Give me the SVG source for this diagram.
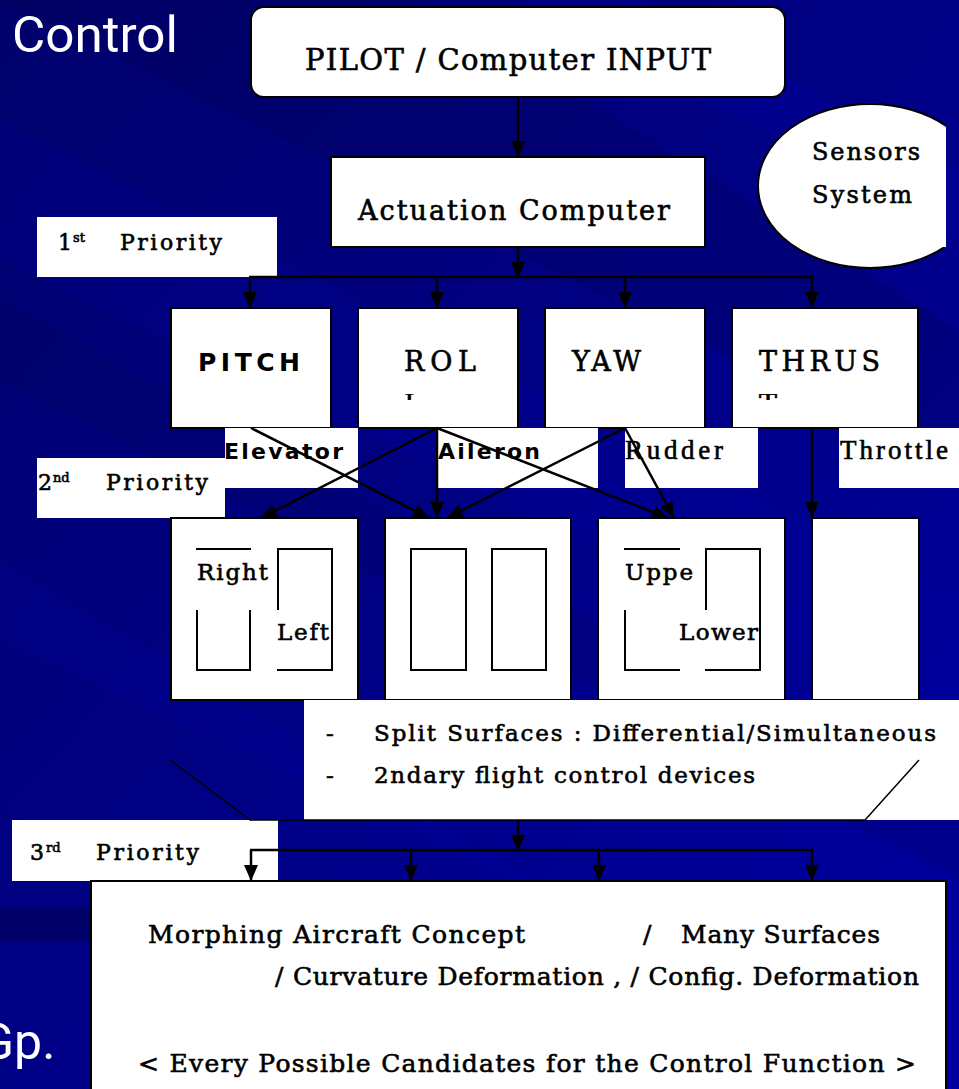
<svg xmlns="http://www.w3.org/2000/svg" width="959" height="1089" viewBox="0 0 959 1089">
<defs>
<linearGradient id="bg" x1="0" y1="0" x2="1" y2="1">
<stop offset="0" stop-color="#00006c"/>
<stop offset="0.5" stop-color="#000086"/>
<stop offset="1" stop-color="#0000a2"/>
</linearGradient>
<marker id="ah" markerUnits="userSpaceOnUse" markerWidth="16" markerHeight="14" refX="16" refY="7" orient="auto">
<path d="M0,0 L16,7 L0,14 z" fill="#000"/>
</marker>
<clipPath id="ellClip"><rect x="700" y="90" width="246" height="190"/></clipPath>
<clipPath id="l2clip"><rect x="380" y="394" width="520" height="6"/></clipPath>
<style>
.serif{font-family:"DejaVu Serif","Liberation Serif",serif;fill:#000;stroke:#000;stroke-width:0.6}
.sans{font-family:"DejaVu Sans","Liberation Sans",sans-serif;font-weight:bold;fill:#000}
.tserif{font-family:"Liberation Serif","DejaVu Serif",serif;fill:#000;stroke:#000;stroke-width:0.6}
.box{fill:#fff;stroke:#000;stroke-width:2}
.wbg{fill:#fff;stroke:none}
.inner{fill:none;stroke:#000;stroke-width:2}
.con{stroke:#000;stroke-width:2.5;fill:none}
.arr{stroke:#000;stroke-width:2.5;fill:none;marker-end:url(#ah)}
.thin{stroke:#000;stroke-width:1.5;fill:none}
.title{font-family:Roboto,"Liberation Sans",sans-serif;fill:#fff}
</style>
</defs>

<!-- background -->
<rect x="0" y="0" width="959" height="1089" fill="url(#bg)"/>
<g>
<polygon points="0,0 420,0 959,330 959,470" fill="#000050" opacity="0.25"/>
<polygon points="0,120 0,260 959,720 959,600" fill="#0000c0" opacity="0.12"/>
<polygon points="0,300 0,380 959,880 959,820" fill="#000050" opacity="0.18"/>
<polygon points="520,0 640,0 959,170 959,240" fill="#0000d0" opacity="0.12"/>
<polygon points="0,560 0,640 959,1089 880,1089" fill="#0000c0" opacity="0.1"/>
</g>
<rect x="0" y="908" width="91" height="34" fill="#000068"/>

<text class="title" x="12" y="52" font-size="50" textLength="166" lengthAdjust="spacingAndGlyphs">Control</text>
<text class="title" x="-20" y="1059" font-size="50">Gp.</text>

<g id="label-1st">
<rect class="wbg" x="37" y="217" width="240" height="60"/>
<text class="serif" x="58" y="250" font-size="22">1</text>
<text class="serif" x="73" y="242" font-size="13">st</text>
<text class="serif" x="120" y="250" font-size="22" textLength="102" lengthAdjust="spacing">Priority</text>
</g>

<g id="label-2nd">
<rect class="wbg" x="37" y="458" width="188" height="60"/>
<text class="serif" x="38" y="490" font-size="22">2</text>
<text class="serif" x="53" y="482" font-size="13">nd</text>
<text class="serif" x="106" y="490" font-size="22" textLength="102" lengthAdjust="spacing">Priority</text>
</g>

<g id="label-3rd">
<rect class="wbg" x="12" y="820" width="266" height="61"/>
<text class="serif" x="30" y="860" font-size="22">3</text>
<text class="serif" x="46" y="852" font-size="13">rd</text>
<text class="serif" x="96" y="860" font-size="22" textLength="103" lengthAdjust="spacing">Priority</text>
</g>

<g id="pilot">
<rect class="box" x="251" y="7" width="534" height="90" rx="13" ry="13"/>
<text class="serif" x="305" y="70" font-size="29" textLength="406" lengthAdjust="spacing">PILOT / Computer INPUT</text>
</g>

<g id="actuation">
<rect class="box" x="331" y="157" width="374" height="90"/>
<text class="serif" x="358" y="220" font-size="27" textLength="312" lengthAdjust="spacing">Actuation Computer</text>
</g>

<g id="sensors">
<ellipse cx="870" cy="186" rx="112" ry="82" fill="#fff" stroke="#000" stroke-width="2" clip-path="url(#ellClip)"/>
<rect class="wbg" x="900" y="127" width="46" height="120"/>
<text class="serif" x="812" y="160" font-size="24" textLength="108" lengthAdjust="spacing">Sensors</text>
<text class="serif" x="812" y="203" font-size="24" textLength="100" lengthAdjust="spacing">System</text>
</g>

<g id="pitch">
<rect class="box" x="171" y="308" width="160" height="120"/>
<text class="sans" x="198" y="371" font-size="25" textLength="102" lengthAdjust="spacing">PITCH</text>
</g>
<g id="roll">
<rect class="box" x="358" y="308" width="160" height="120"/>
<text class="serif" x="404" y="371" font-size="27" textLength="72" lengthAdjust="spacing">ROL</text>
<text class="serif" x="404" y="414" font-size="27" clip-path="url(#l2clip)">L</text>
</g>
<g id="yaw">
<rect class="box" x="545" y="308" width="160" height="120"/>
<text class="serif" x="572" y="371" font-size="27" textLength="69" lengthAdjust="spacing">YAW</text>
</g>
<g id="thrust">
<rect class="box" x="732" y="308" width="186" height="120"/>
<text class="serif" x="759" y="371" font-size="27" textLength="121" lengthAdjust="spacing">THRUS</text>
<text class="serif" x="759" y="414" font-size="27" clip-path="url(#l2clip)">T</text>
</g>

<g id="elevator">
<rect class="wbg" x="225" y="428" width="133" height="60"/>
<text class="sans" x="224" y="459" font-size="22" textLength="119" lengthAdjust="spacing">Elevator</text>
</g>
<g id="aileron">
<rect class="wbg" x="438" y="428" width="160" height="60"/>
<text class="sans" x="438" y="459" font-size="22" textLength="102" lengthAdjust="spacing">Aileron</text>
</g>
<g id="rudder">
<rect class="wbg" x="625" y="428" width="133" height="60"/>
<text class="tserif" x="625" y="459" font-size="27" textLength="98" lengthAdjust="spacing">Rudder</text>
</g>
<g id="throttle">
<rect class="wbg" x="839" y="428" width="120" height="60"/>
<text class="tserif" x="840" y="459" font-size="27" textLength="108" lengthAdjust="spacing">Throttle</text>
</g>

<g id="surf-a">
<rect class="box" x="171" y="518" width="187" height="182"/>
<rect class="inner" x="197" y="549" width="53" height="121"/>
<rect class="inner" x="278" y="549" width="54" height="121"/>
<rect class="wbg" x="196" y="550" width="80" height="60"/>
<rect class="wbg" x="276" y="610" width="55" height="59"/>
<text class="serif" x="197" y="580" font-size="23" textLength="71" lengthAdjust="spacing">Right</text>
<text class="serif" x="277" y="640" font-size="23" textLength="52" lengthAdjust="spacing">Left</text>
</g>
<g id="surf-b">
<rect class="box" x="385" y="518" width="186" height="182"/>
<rect class="inner" x="411" y="549" width="55" height="121"/>
<rect class="inner" x="492" y="549" width="54" height="121"/>
</g>
<g id="surf-c">
<rect class="box" x="598" y="518" width="187" height="182"/>
<rect class="inner" x="625" y="549" width="54" height="121"/>
<rect class="inner" x="706" y="549" width="54" height="121"/>
<rect class="wbg" x="624" y="550" width="80" height="60"/>
<rect class="wbg" x="678" y="610" width="81" height="59"/>
<text class="serif" x="625" y="580" font-size="23" textLength="68" lengthAdjust="spacing">Uppe</text>
<text class="serif" x="679" y="640" font-size="23" textLength="79" lengthAdjust="spacing">Lower</text>
</g>
<g id="surf-d">
<rect class="box" x="812" y="518" width="107" height="182"/>
</g>

<g id="notes">
<rect class="wbg" x="304" y="700" width="655" height="120"/>
<text class="serif" x="326" y="741" font-size="23">-</text>
<text class="serif" x="374" y="741" font-size="23" textLength="562" lengthAdjust="spacing">Split Surfaces : Differential/Simultaneous</text>
<text class="serif" x="326" y="783" font-size="23">-</text>
<text class="serif" x="374" y="783" font-size="23" textLength="381" lengthAdjust="spacing">2ndary flight control devices</text>
</g>

<g id="morphing">
<rect class="box" x="91" y="881" width="855" height="220"/>
<text class="serif" x="148" y="943" font-size="25" textLength="377" lengthAdjust="spacing">Morphing Aircraft Concept</text>
<text class="serif" x="643" y="943" font-size="25">/</text>
<text class="serif" x="681" y="943" font-size="25" textLength="199" lengthAdjust="spacing">Many Surfaces</text>
<text class="serif" x="275" y="985" font-size="25" textLength="644" lengthAdjust="spacing">/ Curvature Deformation , / Config. Deformation</text>
<text class="serif" x="138" y="1072" font-size="25" textLength="778" lengthAdjust="spacing">&lt; Every Possible Candidates for the Control Function &gt;</text>
</g>

<g id="connectors">
<line class="arr" x1="518" y1="97" x2="518" y2="157"/>
<line class="arr" x1="518" y1="247" x2="518" y2="278"/>
<line class="con" x1="249" y1="277" x2="813" y2="277"/>
<line class="arr" x1="250" y1="277" x2="250" y2="308"/>
<line class="arr" x1="437" y1="277" x2="437" y2="308"/>
<line class="arr" x1="625" y1="277" x2="625" y2="308"/>
<line class="arr" x1="812" y1="277" x2="812" y2="308"/>

<line class="arr" x1="251" y1="428" x2="429" y2="518"/>
<line class="arr" x1="437" y1="428" x2="261" y2="518"/>
<line class="arr" x1="437" y1="428" x2="437" y2="518"/>
<line class="arr" x1="437" y1="428" x2="668" y2="518"/>
<line class="arr" x1="625" y1="428" x2="447" y2="518"/>
<line class="arr" x1="625" y1="428" x2="674" y2="518"/>
<line class="arr" x1="812" y1="428" x2="812" y2="518"/>

<polyline class="thin" points="170,760 250,820 865,820 919,760"/>
<line class="arr" x1="518" y1="820" x2="518" y2="851"/>
<line class="con" x1="250" y1="850" x2="813" y2="850"/>
<line class="arr" x1="251" y1="850" x2="251" y2="881"/>
<line class="arr" x1="411" y1="850" x2="411" y2="881"/>
<line class="arr" x1="599" y1="850" x2="599" y2="881"/>
<line class="arr" x1="812" y1="850" x2="812" y2="881"/>
</g>
</svg>
